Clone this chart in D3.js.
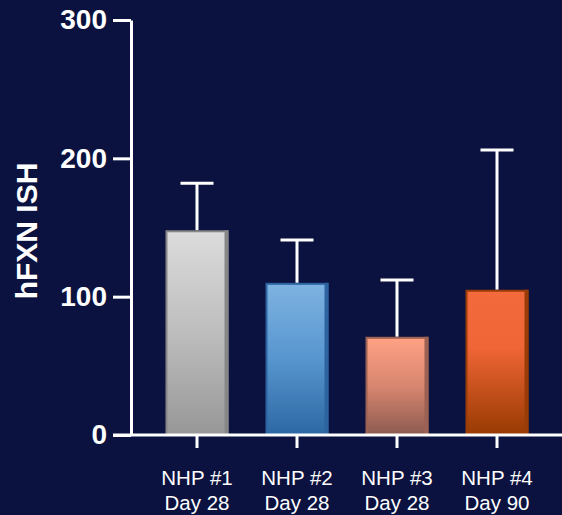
<!DOCTYPE html>
<html><head><meta charset="utf-8">
<script src="https://cdn.jsdelivr.net/npm/d3@7"></script>
<style>html,body{margin:0;padding:0;background:#0b1240;}svg{display:block;}</style>
</head><body>
<script>
const categories = ["NHP #1|Day 28", "NHP #2|Day 28", "NHP #3|Day 28", "NHP #4|Day 90"];
const means = [148, 110, 71, 105];
const errors = [34, 31, 41, 101];
const yTicks = [0, 100, 200, 300];
const gradTop = ["#dcdcdc", "#7eb3e2", "#ffa184", "#f36a3d"];
const gradMid = ["#bdbdbd", "#5795cf", "#d88670", "#ef6535"];
const gradBottom = ["#979797", "#2c68a3", "#8c5a50", "#983a02"];
const edge = ["#878787", "#2d64a0", "#9b6152", "#9a3c08"];

const W = 562, H = 515;
const svg = d3.select("body").append("svg").attr("width", W).attr("height", H);
svg.append("rect").attr("width", W).attr("height", H).attr("fill", "#0b1240");

const x = d3.scaleBand().domain(categories).range([147, 547]).paddingInner(0.37).paddingOuter(0.185);
const y = d3.scaleLinear().domain([0, 300]).range([435, 20]);

const defs = svg.append("defs");
categories.forEach((c, i) => {
  const g = defs.append("linearGradient").attr("id", "g" + i).attr("x1", 0).attr("y1", 0).attr("x2", 0).attr("y2", 1);
  g.append("stop").attr("offset", "0%").attr("stop-color", gradTop[i]);
  g.append("stop").attr("offset", i === 3 ? "40%" : "50%").attr("stop-color", gradMid[i]);
  g.append("stop").attr("offset", "100%").attr("stop-color", gradBottom[i]);
});

// error bars
const eb = svg.append("g");
categories.forEach((c, i) => {
  const cx = x(c) + x.bandwidth() / 2;
  eb.append("line").attr("x1", cx).attr("x2", cx).attr("y1", y(means[i])).attr("y2", y(means[i] + errors[i]))
    .attr("stroke", "#fff").attr("stroke-width", 3);
  eb.append("line").attr("x1", cx - 16.5).attr("x2", cx + 16.5).attr("y1", y(means[i] + errors[i])).attr("y2", y(means[i] + errors[i]))
    .attr("stroke", "#fff").attr("stroke-width", 3);
});

// bars
const bars = svg.append("g");
bars.selectAll("rect.bar").data(categories).join("rect").attr("class", "bar")
  .attr("x", d => x(d) + 1)
  .attr("width", x.bandwidth() - 2)
  .attr("y", (d, i) => y(means[i]) + 1)
  .attr("height", (d, i) => y(0) - y(means[i]) - 1)
  .attr("fill", (d, i) => `url(#g${i})`)
  .attr("stroke", (d, i) => edge[i])
  .attr("stroke-width", 2);
// darker right edge (bevel)
bars.selectAll("rect.edge").data(categories).join("rect").attr("class", "edge")
  .attr("x", d => x(d) + x.bandwidth() - 4)
  .attr("width", 4)
  .attr("y", (d, i) => y(means[i]))
  .attr("height", (d, i) => y(0) - y(means[i]))
  .attr("fill", (d, i) => edge[i]);

// y axis
const ya = svg.append("g").attr("transform", "translate(131,0)")
  .call(d3.axisLeft(y).tickValues(yTicks).tickSize(18).tickPadding(6).tickSizeOuter(0));
ya.select(".domain").attr("stroke", "#fff").attr("stroke-width", 3);
ya.selectAll(".tick line").attr("stroke", "#fff").attr("stroke-width", 3);
ya.selectAll(".tick text").attr("fill", "#fff").attr("font-family", "Liberation Sans, Arial, sans-serif")
  .attr("font-weight", "bold").attr("font-size", 28);

// x axis
const xa = svg.append("g").attr("transform", "translate(0,435)")
  .call(d3.axisBottom(x).tickSize(13).tickSizeOuter(0).tickFormat(""));
xa.select(".domain").attr("d", "M113,0H562").attr("stroke", "#fff").attr("stroke-width", 3);
xa.selectAll(".tick line").attr("stroke", "#fff").attr("stroke-width", 3);
xa.selectAll(".tick").each(function(d) {
  const parts = d.split("|");
  const t = d3.select(this).append("text").attr("fill", "#fff").attr("text-anchor", "middle")
    .attr("font-family", "Liberation Sans, Arial, sans-serif").attr("font-size", 20.5);
  t.append("tspan").attr("x", 0).attr("y", 50).text(parts[0]);
  t.append("tspan").attr("x", 0).attr("y", 75).text(parts[1]);
});

// y title
svg.append("text").attr("transform", "translate(37,231) rotate(-90)")
  .attr("text-anchor", "middle").attr("fill", "#fff")
  .attr("font-family", "Liberation Sans, Arial, sans-serif").attr("font-weight", "bold").attr("font-size", 30)
  .text("hFXN ISH");
</script>
</body></html>
